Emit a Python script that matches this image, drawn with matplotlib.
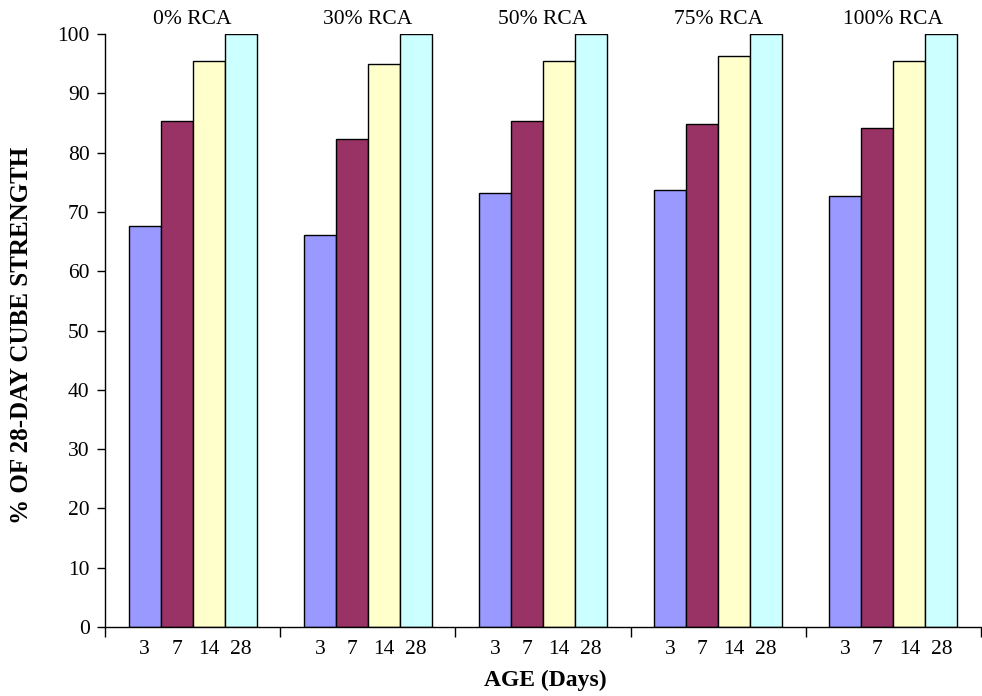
import numpy as np
import matplotlib.pyplot as plt

plt.rcParams['font.family'] = ['Liberation Serif', 'DejaVu Serif']

groups = ['0% RCA', '30% RCA', '50% RCA', '75% RCA', '100% RCA']
ages = ['3', '7', '14', '28']
day3 = [67.6, 66.1, 73.2, 73.7, 72.6]
day7 = [85.3, 82.3, 85.4, 84.9, 84.2]
day14 = [95.4, 95.0, 95.4, 96.3, 95.5]
day28 = [100, 100, 100, 100, 100]
colors = ['#9999FF', '#993366', '#FFFFCC', '#CCFFFF']

series = [day3, day7, day14, day28]
x = np.arange(len(groups))
w = 0.1825

fig = plt.figure(figsize=(9.82, 6.96), dpi=100)
ax = fig.add_axes([105 / 982, 1 - 627 / 696, 876 / 982, 593 / 696])

centers = []
for i, vals in enumerate(series):
    pos = x + (i - 1.5) * w
    ax.bar(pos, vals, width=w, color=colors[i], edgecolor='black', linewidth=1.0)
    centers.append(pos)

ax.set_xlim(-0.5, 4.5)
ax.set_ylim(0, 100)
ax.set_yticks(np.arange(0, 101, 10))
ax.tick_params(axis='y', labelsize=15.5, direction='out', length=6, width=1, pad=5)

# group boundaries as major ticks, age labels as minor ticks
ax.set_xticks(np.arange(-0.5, 4.6, 1.0))
ax.set_xticklabels([])
ax.tick_params(axis='x', which='major', direction='out', length=7, width=1)
minor_pos = np.sort(np.concatenate(centers))
minor_lab = ages * len(groups)
ax.set_xticks(minor_pos, minor=True)
ax.set_xticklabels(minor_lab, minor=True)
ax.tick_params(axis='x', which='minor', length=0, pad=9, labelsize=15.5)

for s in ['top', 'right']:
    ax.spines[s].set_visible(False)
for s in ['left', 'bottom']:
    ax.spines[s].set_linewidth(1)

for g, lab in zip(x, groups):
    ax.text(g, 1.024, lab, transform=ax.get_xaxis_transform(), ha='center', va='center', fontsize=15.5)

fig.text(22 / 982, 1 - 335 / 696, '% OF 28-DAY CUBE STRENGTH', rotation=90,
         ha='center', va='center', fontsize=18, fontweight='bold')
fig.text(545 / 982, 1 - 680 / 696, 'AGE (Days)', ha='center', va='center',
         fontsize=17, fontweight='bold')

fig.savefig('out.png', dpi=100)
